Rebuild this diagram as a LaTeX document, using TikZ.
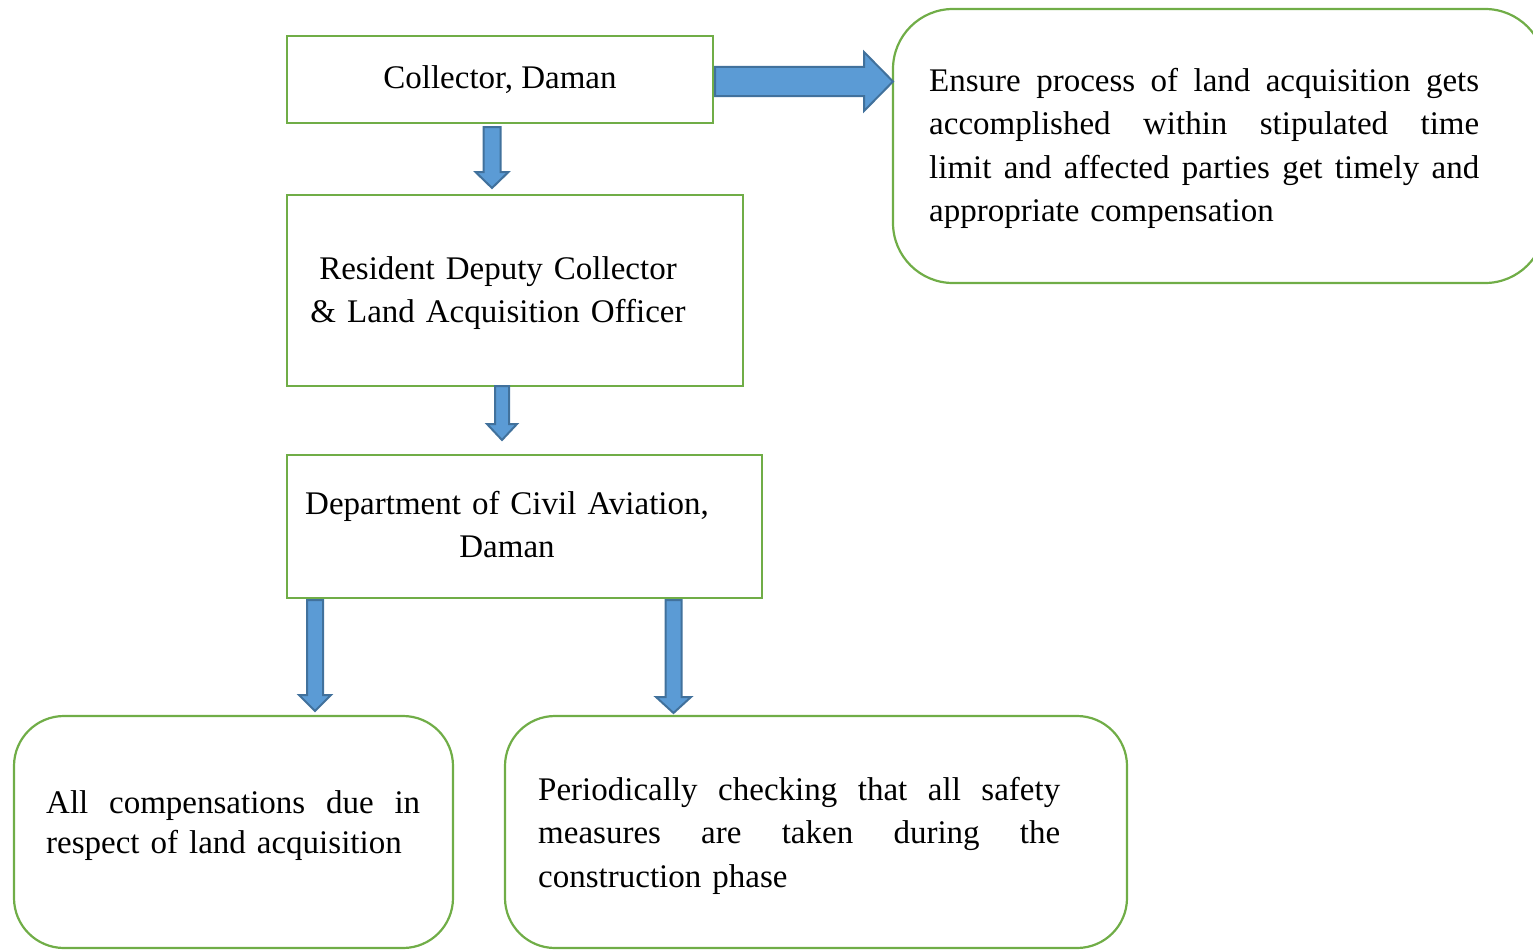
\documentclass[tikz,border=0pt]{standalone}
\usepackage{fontspec}
\setmainfont{Liberation Serif}
\definecolor{gr}{HTML}{70AD47}
\definecolor{bfill}{HTML}{5B9BD5}
\definecolor{bdraw}{HTML}{41719C}
\newcommand\vblock[5]{% x, ytop, ytip, half shaft, half head
  \draw[barrow] (#1-#4,#2) -- (#1+#4,#2) -- (#1+#4,#3-16) -- (#1+#5,#3-16) -- (#1,#3)
    -- (#1-#5,#3-16) -- (#1-#4,#3-16) -- cycle;}
\newcommand\jline[2]{\makebox[#1][s]{\spaceskip=0.25em plus 1fil minus 0.08em\relax #2}}
\begin{document}
\begin{tikzpicture}[x=1pt,y=-1pt,
  sq/.style={draw=gr, line width=2.2pt, inner sep=0pt},
  rbox/.style={sq, rounded corners=50pt},
  txt/.style={font=\fontsize{33}{43.5}\selectfont, inner sep=0pt},
  barrow/.style={fill=bfill, draw=bdraw, line width=2pt, line join=miter}]
\useasboundingbox (0,0) rectangle (1533,950);
\clip (0,0) rectangle (1533,950);

% boxes
\node[sq, txt, minimum width=426pt, minimum height=87pt] (col) at (500,79.5) {Collector, Daman};
\node[sq, minimum width=456pt, minimum height=191pt] (rdc) at (515,290.5) {};
\node[sq, minimum width=475pt, minimum height=143pt] (dca) at (524.5,526.5) {};
\node[rbox, minimum width=439pt, minimum height=232pt] (comp) at (233.5,832) {};
\node[rbox, minimum width=622pt, minimum height=232pt] (safe) at (816,832) {};
\node[rbox, rounded corners=60pt, minimum width=652pt, minimum height=274pt] (ens) at (1219,146) {};

% texts
\node[txt, anchor=base, text width=420pt, align=center] (rdct) at (498,279)
  {Resident Deputy Collector\\\& Land Acquisition Officer};
\node[txt, anchor=base, text width=440pt, align=center] (dcat) at (507,514)
  {Department of Civil Aviation,\\Daman};
\node[txt, anchor=base west, text width=550pt, align=left] (enst) at (929,91)
  {\jline{550pt}{Ensure process of land acquisition gets}\\
   \jline{550pt}{accomplished within stipulated time}\\
   \jline{550pt}{limit and affected parties get timely and}\\
   appropriate compensation};
\node[txt, font=\fontsize{33}{40}\selectfont, anchor=base west, text width=374pt, align=left] (compt) at (46,813)
  {\jline{374pt}{All compensations due in}\\
   respect of land acquisition};
\node[txt, anchor=base west, text width=522pt, align=left] (safet) at (538,800)
  {\jline{522pt}{Periodically checking that all safety}\\
   \jline{522pt}{measures are taken during the}\\
   construction phase};

% block arrows
\draw[barrow] (715,67) -- (864,67) -- (864,52) -- (893,81.5) -- (864,111) -- (864,96) -- (715,96) -- cycle;
\vblock{492}{127}{188}{8.5}{16.5}
\vblock{502}{386}{440}{7}{15}
\vblock{315}{600}{711}{8}{16}
\vblock{673.5}{600}{713}{8}{17.5}
\end{tikzpicture}
\end{document}
